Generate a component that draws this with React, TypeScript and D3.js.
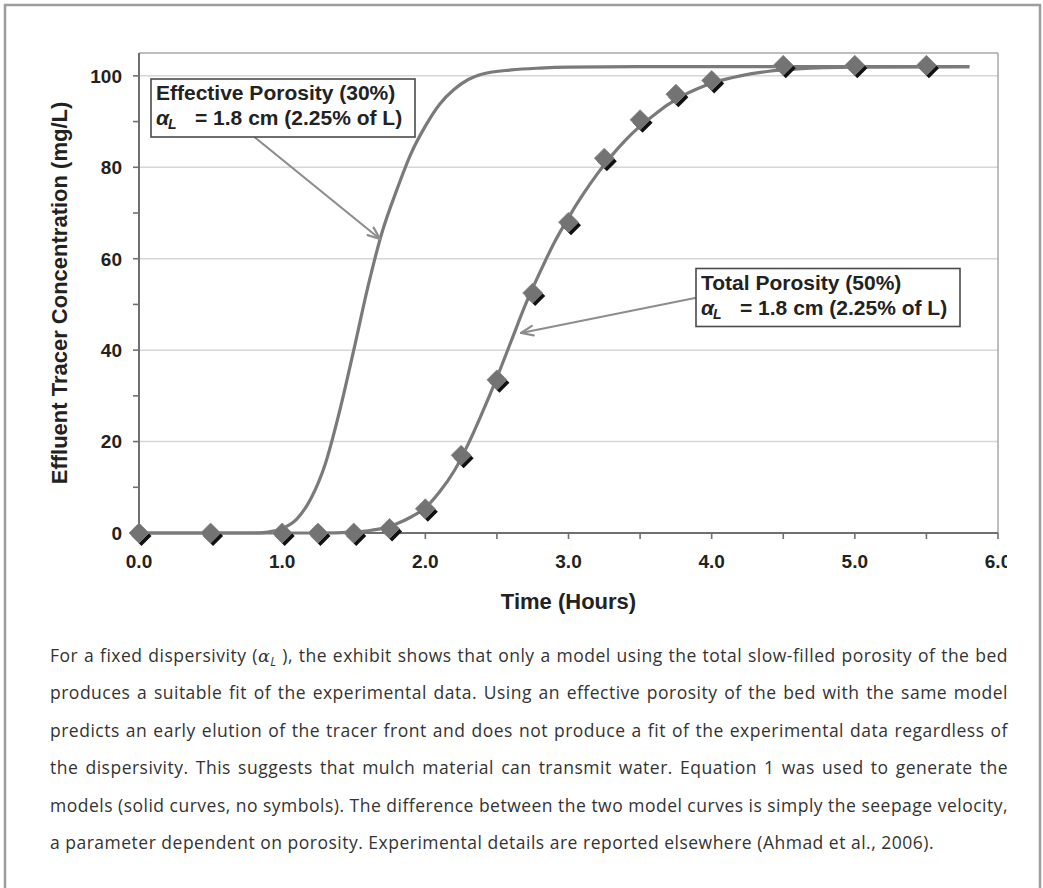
import React, { useEffect, useRef } from "react";
import * as d3 from "d3";

// ---- data ----
const xTickValues = [0, 1, 2, 3, 4, 5, 6];
const xMinorTicks = [0.5, 1.5, 2.5, 3.5, 4.5, 5.5];
const yTickValues = [0, 20, 40, 60, 80, 100];
const yMinorTicks = [10, 30, 50, 70, 90];

// observed data (diamonds)
const obsTime = [0, 0.5, 1.0, 1.25, 1.5, 1.75, 2.0, 2.25, 2.5, 2.75, 3.0, 3.25, 3.5, 3.75, 4.0, 4.5, 5.0, 5.5];
const obsConc = [0, 0, 0, 0, 0, 1, 5.3, 17, 33.5, 52.5, 68, 82, 90.4, 96, 99, 102.3, 102.3, 102.3];

// model, effective porosity (30%)
const effTime = [0, 0.5, 0.8, 0.9, 1.0, 1.1, 1.2, 1.3, 1.4, 1.5, 1.6, 1.7, 1.8, 1.9, 2.0, 2.1, 2.2, 2.3, 2.4, 2.6, 2.8, 3.0, 3.5, 4.0, 5.0, 5.8];
const effConc = [0, 0, 0, 0.2, 1, 3, 7.5, 15, 26.5, 40, 54, 66, 75, 83, 89, 93.8, 97, 99.2, 100.4, 101.3, 101.7, 101.9, 102, 102, 102, 102];

// model, total porosity (50%)
const totTime = [0, 1.0, 1.25, 1.5, 1.6, 1.7, 1.8, 1.9, 2.0, 2.1, 2.2, 2.3, 2.4, 2.5, 2.6, 2.7, 2.8, 2.9, 3.0, 3.1, 3.2, 3.3, 3.4, 3.5, 3.6, 3.7, 3.8, 3.9, 4.0, 4.2, 4.4, 4.6, 5.0, 5.8];
const totConc = [0, 0, 0, 0.2, 0.5, 1, 2, 3.5, 5.5, 9, 13.5, 19.5, 26.5, 34, 42, 50, 57, 63.5, 69, 74, 78.5, 82.5, 86, 89, 91.5, 93.8, 95.7, 97.2, 98.4, 100, 101, 101.5, 101.9, 102];

const xTitle = "Time (Hours)";
const yTitle = "Effluent Tracer Concentration (mg/L)";
const box1Line1 = "Effective Porosity (30%)";
const box2Line1 = "Total Porosity (50%)";
const boxLine2 = "= 1.8 cm (2.25% of L)";

const captionLines = [
  "produces a suitable fit of the experimental data. Using an effective porosity of the bed with the same model",
  "predicts an early elution of the tracer front and does not produce a fit of the experimental data regardless of",
  "the dispersivity. This suggests that mulch material can transmit water. Equation 1 was used to generate the",
  "models (solid curves, no symbols). The difference between the two model curves is simply the seepage velocity,",
  "a parameter dependent on porosity. Experimental details are reported elsewhere (Ahmad et al., 2006).",
];
const captionFirstA = "For a fixed dispersivity (";
const captionFirstB = " ), the exhibit shows that only a model using the total slow-filled porosity of the bed";

const W = 1043;
const H = 888;
const plot = { left: 139, right: 998, top: 53, bottom: 533 };
const FONT = "'Liberation Sans', Arial, Helvetica, sans-serif";
const CAP_FONT = "'Open Sans', 'Noto Sans', sans-serif";

export default function App() {
  const capRef = useRef<SVGGElement>(null);

  const x = d3.scaleLinear().domain([0, 6]).range([plot.left, plot.right]);
  const y = d3.scaleLinear().domain([0, 105]).range([plot.bottom, plot.top]);

  const line = d3
    .line<[number, number]>()
    .x((d) => x(d[0]))
    .y((d) => y(d[1]))
    .curve(d3.curveMonotoneX);

  const effPath = line(effTime.map((t, i) => [t, effConc[i]] as [number, number])) || "";
  const totPath = line(totTime.map((t, i) => [t, totConc[i]] as [number, number])) || "";

  const capLeft = 50;
  const capRight = 1008;
  const capTop = 662;
  const capStep = 37.4;

  useEffect(() => {
    if (!capRef.current) return;
    const target = capRight - capLeft;
    d3.select(capRef.current)
      .selectAll<SVGTextElement, unknown>("text.justify")
      .each(function () {
        const el = this as SVGTextElement;
        el.style.wordSpacing = "0px";
        const w = el.getComputedTextLength();
        const txt = el.textContent || "";
        const spaces = (txt.match(/ /g) || []).length;
        if (spaces > 0) {
          el.style.wordSpacing = `${(target - w) / spaces}px`;
        }
      });
  }, []);

  const diamond = (cx: number, cy: number, r: number) =>
    `M${cx},${cy - r}L${cx + r},${cy}L${cx},${cy + r}L${cx - r},${cy}Z`;

  const arrow = (x1: number, y1: number, x2: number, y2: number) => {
    const ang = Math.atan2(y2 - y1, x2 - x1);
    const len = 13;
    const spread = 0.38;
    const a1 = ang + Math.PI - spread;
    const a2 = ang + Math.PI + spread;
    return (
      <g stroke="#8d8d8d" strokeWidth={2.2} fill="none" strokeLinecap="round" strokeLinejoin="round">
        <line x1={x1} y1={y1} x2={x2} y2={y2} />
        <path
          d={`M${x2 + len * Math.cos(a1)},${y2 + len * Math.sin(a1)}L${x2},${y2}L${x2 + len * Math.cos(a2)},${y2 + len * Math.sin(a2)}`}
        />
      </g>
    );
  };

  const box = (bx: number, by: number, line1: string) => (
    <g>
      <rect x={bx} y={by} width={264} height={58} fill="#fff" stroke="#4a4a4a" strokeWidth={1.6} />
      <text x={bx + 5} y={by + 21} fontFamily={FONT} fontWeight="bold" fontSize={21} fill="#222">
        {line1}
      </text>
      <text x={bx + 5} y={by + 46} fontFamily={FONT} fontWeight="bold" fontSize={21} fill="#222" fontStyle="italic">
        α
      </text>
      <text x={bx + 17} y={by + 50} fontFamily={FONT} fontWeight="bold" fontSize={14} fill="#222" fontStyle="italic">
        L
      </text>
      <text x={bx + 44} y={by + 46} fontFamily={FONT} fontWeight="bold" fontSize={21} fill="#222">
        {boxLine2}
      </text>
    </g>
  );

  return (
    <svg
      width={W}
      height={H}
      viewBox={`0 0 ${W} ${H}`}
      style={{ position: "absolute", left: 0, top: 0, background: "#fff" }}
    >
      <defs>
        <clipPath id="tickClip">
          <rect x={0} y={0} width={1007} height={H} />
        </clipPath>
      </defs>
      <rect x={0} y={0} width={W} height={H} fill="#fff" />
      {/* outer frame */}
      <rect x={5} y={5} width={1035} height={H + 20} fill="none" stroke="#9d9d9d" strokeWidth={2.5} />

      {/* gridlines */}
      {yTickValues
        .filter((v) => v > 0)
        .map((v) => (
          <line key={`g${v}`} x1={plot.left} x2={plot.right} y1={y(v)} y2={y(v)} stroke="#d6d6d6" strokeWidth={1.5} />
        ))}
      {/* plot border top/right */}
      <line x1={plot.left} x2={plot.right} y1={plot.top} y2={plot.top} stroke="#a8a8a8" strokeWidth={1.5} />
      <line x1={plot.right} x2={plot.right} y1={plot.top} y2={plot.bottom} stroke="#a8a8a8" strokeWidth={1.5} />

      {/* axes */}
      <line x1={plot.left} x2={plot.left} y1={plot.top} y2={plot.bottom} stroke="#707070" strokeWidth={2} />
      <line x1={plot.left} x2={plot.right} y1={plot.bottom} y2={plot.bottom} stroke="#707070" strokeWidth={2} />
      {yTickValues.concat(yMinorTicks).map((v) => (
        <line key={`yt${v}`} x1={plot.left - 6} x2={plot.left} y1={y(v)} y2={y(v)} stroke="#707070" strokeWidth={1.6} />
      ))}
      {xTickValues.concat(xMinorTicks).map((v) => (
        <line key={`xt${v}`} x1={x(v)} x2={x(v)} y1={plot.bottom} y2={plot.bottom + 6} stroke="#707070" strokeWidth={1.6} />
      ))}
      {yTickValues.map((v) => (
        <text
          key={`yl${v}`}
          x={122}
          y={y(v)}
          dy="0.36em"
          textAnchor="end"
          fontFamily={FONT}
          fontWeight="bold"
          fontSize={19}
          fill="#222"
        >
          {v}
        </text>
      ))}
      <g clipPath="url(#tickClip)">
        {xTickValues.map((v) => (
          <text
            key={`xl${v}`}
            x={x(v)}
            y={568}
            textAnchor="middle"
            fontFamily={FONT}
            fontWeight="bold"
            fontSize={19}
            fill="#222"
          >
            {d3.format(".1f")(v)}
          </text>
        ))}
      </g>
      <text x={(plot.left + plot.right) / 2} y={609} textAnchor="middle" fontFamily={FONT} fontWeight="bold" fontSize={22} fill="#222">
        {xTitle}
      </text>
      <text
        transform={`translate(67,${(plot.top + plot.bottom) / 2}) rotate(-90)`}
        textAnchor="middle"
        fontFamily={FONT}
        fontWeight="bold"
        fontSize={22}
        fill="#222"
      >
        {yTitle}
      </text>

      {/* model curves */}
      <path d={effPath} fill="none" stroke="#7a7a7a" strokeWidth={3.2} />
      <path d={totPath} fill="none" stroke="#7a7a7a" strokeWidth={3.2} />

      {/* observed diamonds */}
      {obsTime.map((t, i) => (
        <g key={`d${i}`}>
          <path d={diamond(x(t) + 2.5, y(obsConc[i]) + 3, 10)} fill="#111" />
          <path d={diamond(x(t), y(obsConc[i]), 10)} fill="#737373" stroke="#8a8a8a" strokeWidth={0.8} />
        </g>
      ))}

      {/* annotations */}
      {arrow(255, 137.5, 380, 239)}
      {arrow(695, 298, 521, 333)}
      {box(151, 79, box1Line1)}
      {box(696, 268.5, box2Line1)}

      {/* caption */}
      <g ref={capRef} fontFamily={CAP_FONT} fontSize={17.5} fill="#333" style={{ letterSpacing: "0.5px" }}>
        <text className="justify" x={capLeft} y={capTop}>
          {captionFirstA}
          <tspan fontStyle="italic" fontFamily="'DejaVu Serif', serif">α</tspan>
          <tspan fontStyle="italic" fontSize={12} dy={4}>L</tspan>
          <tspan dy={-4}>{captionFirstB}</tspan>
        </text>
        {captionLines.map((l, i) => (
          <text
            key={`c${i}`}
            className={i < captionLines.length - 1 ? "justify" : ""}
            x={capLeft}
            y={capTop + (i + 1) * capStep}
          >
            {l}
          </text>
        ))}
      </g>
    </svg>
  );
}
